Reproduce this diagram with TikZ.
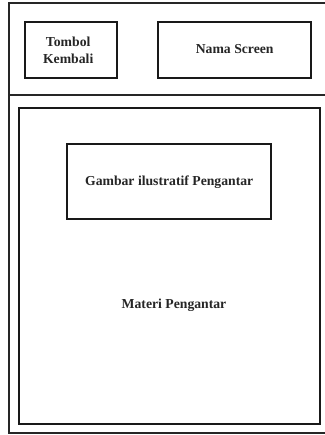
\documentclass[tikz,border=0pt]{standalone}
\usepackage{fontspec}
\setmainfont{Liberation Serif}
\begin{document}
\begin{tikzpicture}[x=1pt,y=1pt,
  frame/.style={draw=black!85,line width=1.6pt},
  uibox/.style={draw=black!90,line width=2.4pt,fill=white},
  lbl/.style={font=\bfseries\fontsize{13.7}{16.5}\selectfont,text=black!85,align=center}]
\useasboundingbox (0,0) rectangle (324,-435);
% outer frame (right edge falls outside the picture)
\coordinate (tr) at (326,-3);
\coordinate (tl) at (9,-3);
\coordinate (bl) at (9,-433);
\coordinate (br) at (326,-433);
\coordinate (dl) at (9,-95);
\coordinate (dr) at (326,-95);
\draw[frame] (tr) -- (tl) -- (bl) -- (br);
\draw[frame] (dl) -- (dr);
% header boxes
\node[uibox,minimum width=92pt,minimum height=56pt,anchor=north west] (back) at (24,-21) {};
\node[lbl] at ([xshift=-3pt]back.center) {Tombol\\Kembali};
\node[uibox,minimum width=153pt,minimum height=56pt,anchor=north west] (title) at (157,-21) {};
\node[lbl] at ([yshift=1pt]title.center) {Nama Screen};
% content
\node[uibox,minimum width=301pt,minimum height=316pt,anchor=north west] (content) at (18,-107) {};
\node[uibox,minimum width=204pt,minimum height=75pt,anchor=north west] (img) at (66,-143) {};
\node[lbl] at (img.center) {Gambar ilustratif Pengantar};
\node[lbl] (materi) at (174,-305) {Materi Pengantar};
\end{tikzpicture}
\end{document}
